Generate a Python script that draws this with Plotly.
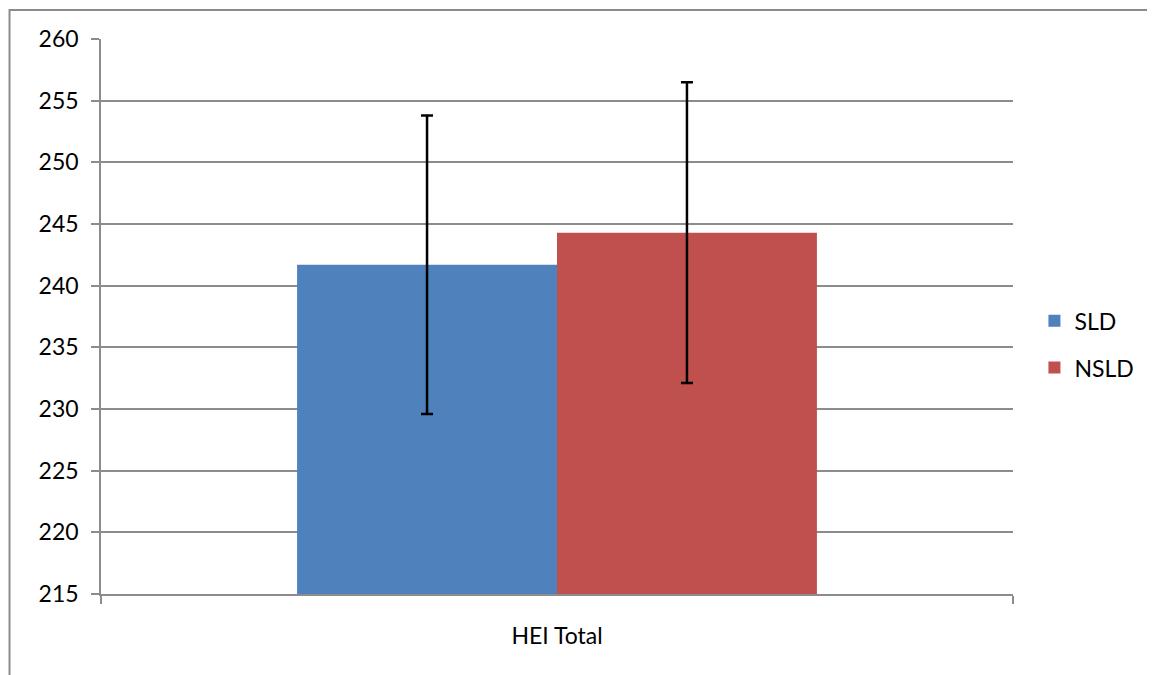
import plotly.graph_objects as go

categories = ["HEI Total"]
series_names = ["SLD", "NSLD"]
sld_values = [241.7]
nsld_values = [244.3]
sld_err = [12.1]
nsld_err = [12.2]
y_ticks = [215, 220, 225, 230, 235, 240, 245, 250, 255, 260]

colors = ["#4F81BD", "#C0504D"]
font_family = "Lato, 'Open Sans', sans-serif"

fig = go.Figure()
for name, vals, errs, col, grp in [
    (series_names[0], sld_values, sld_err, colors[0], "g1"),
    (series_names[1], nsld_values, nsld_err, colors[1], "g2"),
]:
    fig.add_trace(go.Bar(
        x=categories, y=vals, name=name, marker=dict(color=col, line=dict(width=0)),
        legendgroup=grp,
        error_y=dict(type="data", array=errs, visible=True, color="black", thickness=2.5, width=6),
    ))

# page body has an 8px margin, so the figure is offset by 8px
fig.update_layout(
    width=1147, height=667,
    margin=dict(l=93, r=142, t=31, b=81),
    paper_bgcolor="white", plot_bgcolor="white",
    barmode="group", bargap=0.43, bargroupgap=0,
    font=dict(family=font_family, size=23, color="black"),
    legend=dict(x=1.0235, y=0.45, xanchor="left", yanchor="middle",
                font=dict(size=23), tracegroupgap=14, bgcolor="rgba(0,0,0,0)"),
    showlegend=True,
)
fig.update_yaxes(
    range=[215, 260], tickvals=y_ticks, ticktext=[str(v) for v in y_ticks],
    showgrid=True, gridcolor="#8C8C8C", gridwidth=1.5,
    showline=True, linecolor="#8C8C8C", linewidth=1.5,
    ticks="outside", ticklen=8, tickcolor="#8C8C8C", tickwidth=1.5,
    zeroline=False, ticklabelstandoff=8,
)
fig.update_xaxes(
    showline=True, linecolor="#8C8C8C", linewidth=1.5,
    ticks="outside", ticklen=8, tickcolor="#8C8C8C", tickwidth=1.5,
    tickson="boundaries", showgrid=False, ticklabelstandoff=21,
)
# outer chart border (partially visible in the reference)
fig.add_shape(type="rect", xref="paper", yref="paper",
              x0=-0.1003, x1=1.3, y0=-0.3, y1=1.0523,
              line=dict(color="#8C8C8C", width=2), fillcolor="rgba(0,0,0,0)", layer="below")

fig.write_html("out.html")
